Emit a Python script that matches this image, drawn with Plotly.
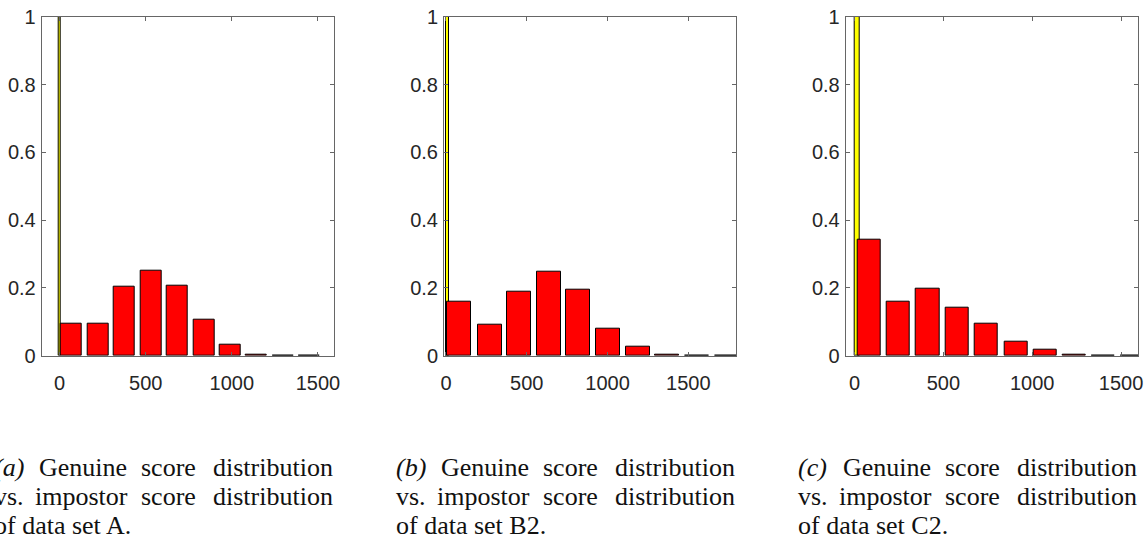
import plotly.graph_objects as go

# ---------------- data ----------------
panels = ["A", "B2", "C2"]
letters = ["a", "b", "c"]

score_bins_A = [70, 224, 377, 530, 683, 838, 990, 1143, 1296, 1449]
genuine_A = [0.095, 0.093, 0.204, 0.251, 0.207, 0.106, 0.032, 0.002, 0.001, 0.0]
impostor_bin_A = [0]
impostor_A = [1.0]

score_bins_B = [82, 270, 454, 637, 819, 1001, 1186, 1369, 1553, 1737]
genuine_B = [0.158, 0.090, 0.190, 0.247, 0.195, 0.079, 0.026, 0.002, 0.0, 0.0]
impostor_bin_B = [10]
impostor_B = [1.0]

score_bins_C = [82, 246, 412, 577, 742, 908, 1071, 1236, 1401, 1566]
genuine_C = [0.341, 0.158, 0.198, 0.142, 0.093, 0.040, 0.018, 0.002, 0.0, 0.0]
impostor_bin_C = [13]
impostor_C = [1.0]

y_ticks = [0, 0.2, 0.4, 0.6, 0.8, 1]
y_ticklabels = ["0", "0.2", "0.4", "0.6", "0.8", "1"]
x_ticks = [0, 500, 1000, 1500]
x_ticklabels = ["0", "500", "1000", "1500"]

# ---------------- styles / layout ----------------
W, H = 1148, 539
genuine_bar_width = [122, 148, 131]
impostor_bar_width = [14, 19, 28]
x_ranges = [[-104, 1595], [-12, 1795], [-50, 1597]]
axis_left_px = [41.7, 444.0, 845.7]
axis_right_px = [334.3, 736.0, 1138.3]
axis_top_px, axis_bottom_px = 16.7, 355.7

tick_font = dict(family="Liberation Sans, Arial, sans-serif", size=20, color="#262626")
cap_font = dict(family="Liberation Serif, Times New Roman, serif", size=26, color="#111111")
axis_col = "#666666"

series = [
    (score_bins_A, genuine_A, impostor_bin_A, impostor_A),
    (score_bins_B, genuine_B, impostor_bin_B, impostor_B),
    (score_bins_C, genuine_C, impostor_bin_C, impostor_C),
]

fig = go.Figure()
for i, (bins, gen, ibin, imp) in enumerate(series):
    xa = "x" if i == 0 else f"x{i+1}"
    ya = "y" if i == 0 else f"y{i+1}"
    fig.add_trace(go.Bar(x=ibin, y=imp, width=impostor_bar_width[i], xaxis=xa, yaxis=ya,
                         marker=dict(color="#ffff00", line=dict(color="black", width=1)),
                         showlegend=False, hoverinfo="skip"))
    fig.add_trace(go.Bar(x=bins, y=gen, width=genuine_bar_width[i], xaxis=xa, yaxis=ya,
                         marker=dict(color="#ff0000", line=dict(color="black", width=1)),
                         showlegend=False, hoverinfo="skip"))

layout = dict(width=W, height=H, margin=dict(l=0, r=0, t=0, b=0, pad=0, autoexpand=False),
              paper_bgcolor="white", plot_bgcolor="white", barmode="overlay",
              bargap=0, showlegend=False)

ydom = [1 - axis_bottom_px / H, 1 - axis_top_px / H]
for i in range(3):
    xk = "xaxis" if i == 0 else f"xaxis{i+1}"
    yk = "yaxis" if i == 0 else f"yaxis{i+1}"
    xa_anchor = "y" if i == 0 else f"y{i+1}"
    ya_anchor = "x" if i == 0 else f"x{i+1}"
    layout[xk] = dict(domain=[axis_left_px[i] / W, axis_right_px[i] / W], anchor=xa_anchor,
                      range=x_ranges[i], tickmode="array", tickvals=x_ticks, ticktext=x_ticklabels,
                      showgrid=False, zeroline=False, showline=True, linecolor=axis_col, linewidth=1,
                      mirror="ticks", ticks="inside", ticklen=4, tickcolor=axis_col,
                      tickfont=tick_font, ticklabelstandoff=9, automargin=False)
    layout[yk] = dict(domain=ydom, anchor=ya_anchor, range=[0, 1],
                      tickmode="array", tickvals=y_ticks, ticktext=y_ticklabels,
                      showgrid=False, zeroline=False, showline=True, linecolor=axis_col, linewidth=1,
                      mirror="ticks", ticks="inside", ticklen=4, tickcolor=axis_col,
                      tickfont=tick_font, ticklabelstandoff=1, automargin=False)

# captions (justified look: words placed along each line)
line_y_px = [467, 496.5, 525]
annotations = []

def add_word(text, xpx, ypx, anchor):
    annotations.append(dict(text=text, x=xpx / W, y=1 - ypx / H, xref="paper", yref="paper",
                            xanchor=anchor, yanchor="middle", showarrow=False, font=cap_font))

for i in range(3):
    L = axis_left_px[i]
    add_word(f"<i>({letters[i]})</i>", L - 50, line_y_px[0], "left")
    add_word("Genuine", L + 41, line_y_px[0], "center")
    add_word("score", L + 126.5, line_y_px[0], "center")
    add_word("distribution", L + 293, line_y_px[0], "right")
    add_word("vs.", L - 50, line_y_px[1], "left")
    add_word("impostor", L + 39.5, line_y_px[1], "center")
    add_word("score", L + 126.5, line_y_px[1], "center")
    add_word("distribution", L + 293, line_y_px[1], "right")
    add_word(f"of data set {panels[i]}.", L - 50, line_y_px[2], "left")

layout["annotations"] = annotations
fig.update_layout(**layout)
fig.write_html("out.html")
